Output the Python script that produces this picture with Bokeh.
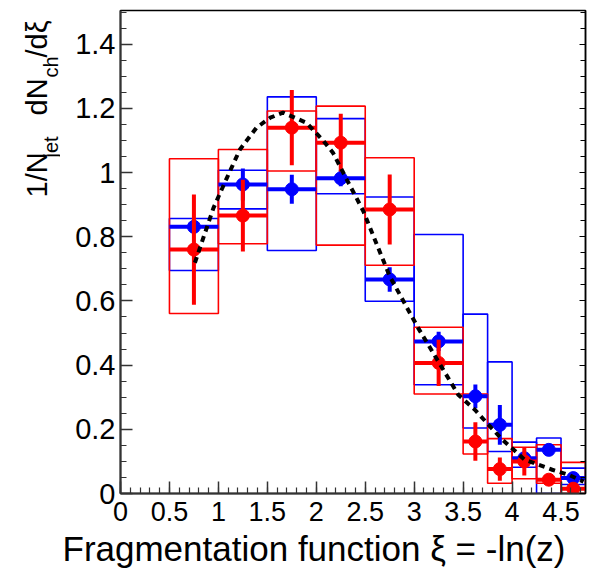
import numpy as np
from bokeh.plotting import figure
from bokeh.layouts import row
from bokeh.models import (FixedTicker, CustomJSTickFormatter, LinearAxis, Title,
                          ColumnDataSource)
from bokeh.core.properties import value
from bokeh.embed import file_html
from bokeh.resources import INLINE

# ---- data ----
bin_lo = [0.5, 1.0, 1.5, 2.0, 2.5, 3.0, 3.5, 3.75, 4.0, 4.25, 4.5]
bin_hi = [1.0, 1.5, 2.0, 2.5, 3.0, 3.5, 3.75, 4.0, 4.25, 4.5, 4.75]

blue_val = [0.831, 0.963, 0.948, 0.982, 0.667, 0.474, 0.303, 0.214, 0.110, 0.136, 0.048]
blue_stat = [0.020, 0.050, 0.045, 0.025, 0.038, 0.030, 0.037, 0.062, 0.015, 0.015, 0.012]
blue_sys_lo = [0.695, 0.887, 0.757, 0.934, 0.599, 0.339, 0.204, 0.131, 0.082, 0.0, 0.028]
blue_sys_hi = [0.857, 1.007, 1.236, 1.168, 0.924, 0.807, 0.559, 0.410, 0.160, 0.173, 0.079]

red_val = [0.760, 0.866, 1.140, 1.093, 0.885, 0.407, 0.162, 0.076, 0.100, 0.043, 0.015]
red_stat = [0.172, 0.112, 0.117, 0.090, 0.109, 0.072, 0.060, 0.036, 0.044, 0.010, 0.010]
red_sys_lo = [0.561, 0.778, 1.005, 0.774, 0.711, 0.310, 0.123, 0.032, 0.046, 0.032, 0.0]
red_sys_hi = [1.043, 1.072, 1.192, 1.207, 1.046, 0.518, 0.310, 0.171, 0.144, 0.152, 0.097]

curve_x = [0.76, 0.95, 1.08, 1.22, 1.39, 1.53, 1.66, 1.90, 2.07, 2.17, 2.31, 2.41,
           2.48, 2.75, 3.04, 3.45, 3.62, 3.76, 3.90, 4.13, 4.41, 4.58, 4.73]
curve_y = [0.719, 0.890, 0.979, 1.072, 1.140, 1.171, 1.187, 1.155, 1.100, 1.062, 0.979,
           0.921, 0.880, 0.677, 0.516, 0.308, 0.261, 0.214, 0.168, 0.105, 0.074, 0.058, 0.037]

y_ticks = [0, 0.2, 0.4, 0.6, 0.8, 1, 1.2, 1.4]
x_ticks = [0, 0.5, 1, 1.5, 2, 2.5, 3, 3.5, 4, 4.5]

x_title = "Fragmentation function ξ = -ln(z)"
y_title_main = ["1/N", "dN", "/dξ"]
y_title_sub = ["jet", "ch"]

RED = "#ff0000"
BLUE = "#0000ff"
FONT = "Liberation Sans"
H = 581
LEFT_W = 60
FRAME_TOP, FRAME_BOTTOM = 10, 493

# ---- main plot ----
p = figure(width=594 - LEFT_W, height=H, x_range=(0, 4.75), y_range=(0, 1.505),
           min_border_left=120 - LEFT_W, min_border_right=9, min_border_top=FRAME_TOP,
           min_border_bottom=H - FRAME_BOTTOM, output_backend="svg", toolbar_location=None)
p.grid.visible = False
p.outline_line_color = "black"
p.outline_line_width = 1.5
p.background_fill_color = "white"
p.border_fill_color = "white"


def series(val, err, lo_sys, hi_sys):
    c = [(a + b) / 2 for a, b in zip(bin_lo, bin_hi)]
    return ColumnDataSource(dict(
        lo=bin_lo, hi=bin_hi, c=c, v=val,
        elo=[v - e for v, e in zip(val, err)], ehi=[v + e for v, e in zip(val, err)],
        slo=lo_sys, shi=hi_sys))


bsrc = series(blue_val, blue_stat, blue_sys_lo, blue_sys_hi)
rsrc = series(red_val, red_stat, red_sys_lo, red_sys_hi)

# systematic boxes
p.quad(left="lo", right="hi", bottom="slo", top="shi", source=bsrc,
       fill_alpha=0, line_color=BLUE, line_width=1.6)
p.quad(left="lo", right="hi", bottom="slo", top="shi", source=rsrc,
       fill_alpha=0, line_color=RED, line_width=1.6)

for src, col in ((bsrc, BLUE), (rsrc, RED)):
    p.segment(x0="lo", x1="hi", y0="v", y1="v", source=src, line_color=col, line_width=4)
    p.segment(x0="c", x1="c", y0="elo", y1="ehi", source=src, line_color=col, line_width=4)
    p.scatter(x="c", y="v", source=src, size=13, fill_color=col, line_color=col)

p.line(curve_x, curve_y, line_color="black", line_width=4, line_dash="6 5")

# axes
fmt = CustomJSTickFormatter(code="return String(tick);")
y_minor = list(np.round(np.arange(0, 1.51, 0.05), 2))
x_minor = list(np.round(np.arange(0, 4.76, 0.1), 2))
p.yaxis.ticker = FixedTicker(ticks=y_ticks, minor_ticks=y_minor)
p.xaxis.ticker = FixedTicker(ticks=x_ticks, minor_ticks=x_minor)
for ax in (p.xaxis, p.yaxis):
    ax.formatter = fmt
    ax.major_tick_in = 12
    ax.major_tick_out = 0
    ax.minor_tick_in = 6
    ax.minor_tick_out = 0
    ax.axis_line_color = "#333333"
    ax.axis_line_width = 2
    ax.major_tick_line_color = "#333333"
    ax.minor_tick_line_color = "#333333"
    ax.major_tick_line_width = 1.5
    ax.minor_tick_line_width = 1.2
    ax.major_label_text_font = FONT
    ax.major_label_text_color = "black"
p.yaxis.major_label_text_font_size = "29px"
p.yaxis.major_label_standoff = 5
p.xaxis.major_label_text_font_size = "27px"
p.xaxis.major_label_standoff = 8

# right-hand frame ticks (no labels)
rax = LinearAxis(ticker=FixedTicker(ticks=y_ticks, minor_ticks=y_minor),
                 formatter=CustomJSTickFormatter(code="return '';"),
                 major_tick_in=6, major_tick_out=0, minor_tick_in=5, minor_tick_out=0,
                 major_label_text_font_size="1px", major_label_standoff=0,
                 axis_line_color="black", axis_line_width=1.5)
p.add_layout(rax, "right")

# x-axis title: starts ~58 px left of the frame's left edge, as in the reference
p.add_layout(Title(text=x_title, align="left", offset=-58, standoff=7,
                   text_font=FONT, text_font_size="35px", text_font_style="normal",
                   text_color="black"), "below")

# ---- left strip holding the rotated y-axis title ----
# its frame is aligned with the main frame (rows 10..493), so map y to screen px
q = figure(width=LEFT_W, height=H, x_range=(0, LEFT_W),
           y_range=(H - FRAME_BOTTOM, H - FRAME_TOP),
           x_axis_type=None, y_axis_type=None,
           min_border=0, min_border_left=0, min_border_right=0, min_border_top=0,
           min_border_bottom=0, output_backend="svg", toolbar_location=None)
q.grid.visible = False
q.outline_line_color = None
q.background_fill_color = "white"
q.border_fill_color = "white"

# start positions (screen px from top) along the rotated text; x = glyph-top side
main_start = [197, 115, 57]
sub_start = [157, 77]
q.text(x=[36] * 3, y=[H - s for s in main_start], text=y_title_main, angle=np.pi / 2,
       text_font=value(FONT), text_font_size="29px", text_align="left",
       text_baseline="alphabetic", text_color="black")
q.text(x=[50] * 2, y=[H - s for s in sub_start], text=y_title_sub, angle=np.pi / 2,
       text_font=value(FONT), text_font_size="20px", text_align="left",
       text_baseline="alphabetic", text_color="black")

layout = row(q, p, spacing=0)
open("out.html", "w").write(file_html(layout, INLINE))
